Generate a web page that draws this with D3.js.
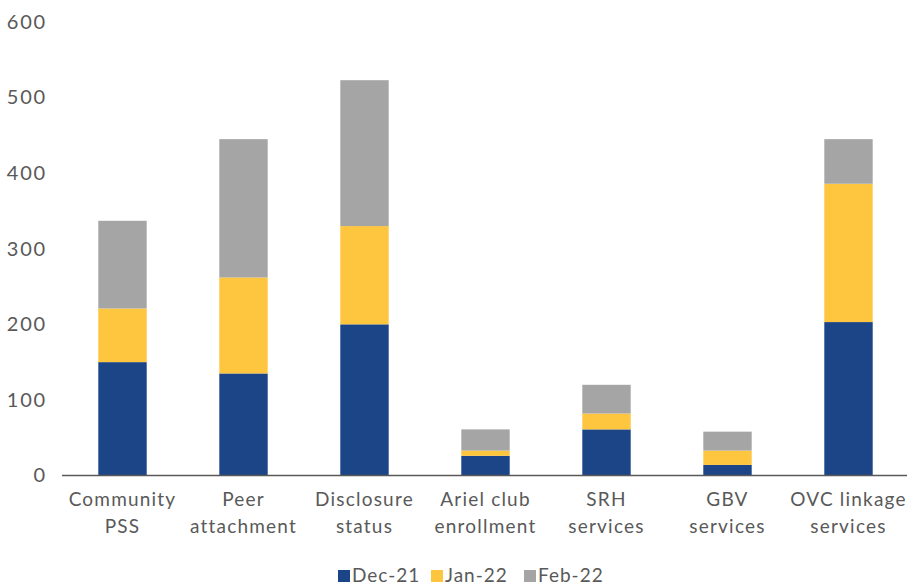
<!DOCTYPE html>
<html><head><meta charset="utf-8">
<script src="https://cdn.jsdelivr.net/npm/d3@7"></script>
<style>body{margin:0;background:#fff;} text{font-family:Lato, "Open Sans", sans-serif;}</style>
</head><body><svg id="c" width="915" height="585"></svg>
<script>
const categories = [["Community","PSS"],["Peer","attachment"],["Disclosure","status"],["Ariel club","enrollment"],["SRH","services"],["GBV","services"],["OVC linkage","services"]];
const seriesNames = ["Dec-21","Jan-22","Feb-22"];
const dec21 = [150,135,200,26,61,14,203];
const jan22 = [71,127,130,7,21,19,183];
const feb22 = [116,183,193,28,38,25,59];
const yTicks = [0,100,200,300,400,500,600];
const colors = ["#1b4586","#fec53f","#a5a5a5"];

const svg = d3.select("#c");
const m = {l:62, r:6, t:22, b:110};
const W = 915, H = 585;
const x = d3.scaleBand().domain(d3.range(categories.length)).range([m.l, W - m.r]).paddingInner(0.6).paddingOuter(0.3);
const y = d3.scaleLinear().domain([0,600]).range([475.5, 22]);

const rows = categories.map((c,i)=>({i, "Dec-21":dec21[i], "Jan-22":jan22[i], "Feb-22":feb22[i]}));
const stack = d3.stack().keys(seriesNames)(rows);

svg.append("g").selectAll("g").data(stack).join("g").attr("fill",(d,k)=>colors[k])
  .selectAll("rect").data(d=>d).join("rect")
  .attr("x", d=>x(d.data.i)).attr("width", x.bandwidth())
  .attr("y", d=>y(d[1])).attr("height", d=>y(d[0])-y(d[1]));

// y axis labels
const ya = svg.append("g").attr("transform","translate(47,0)").call(d3.axisLeft(y).tickValues(yTicks).tickSize(0).tickPadding(0));
ya.select(".domain").remove();
ya.selectAll("text").attr("font-size",20).attr("fill","#595959").style("font-family","Lato, sans-serif").style("letter-spacing","1.8px");

// baseline
svg.append("line").attr("x1",m.l).attr("x2",907).attr("y1",y(0)).attr("y2",y(0)).attr("stroke","#595959").attr("stroke-width",1.5);

// category labels
const cl = svg.append("g").selectAll("text").data(categories).join("text")
  .attr("text-anchor","middle").attr("font-size",19).attr("fill","#595959").style("letter-spacing","1.2px")
  .attr("x",(d,i)=>x(i)+x.bandwidth()/2).attr("y",506);
cl.selectAll("tspan").data(d=>d).join("tspan").attr("x",function(){return this.parentNode.getAttribute("x");})
  .attr("dy",(d,j)=>j===0?0:27).text(d=>d);

// legend
const lg = svg.append("g");
const legX = [338, 431, 524];
seriesNames.forEach((s,k)=>{
  lg.append("rect").attr("x",legX[k]).attr("y",570).attr("width",12).attr("height",12).attr("fill",colors[k]);
  lg.append("text").attr("x",legX[k]+14).attr("y",582).attr("font-size",19).attr("fill","#595959").style("letter-spacing","1px").text(s);
});
</script></body></html>
